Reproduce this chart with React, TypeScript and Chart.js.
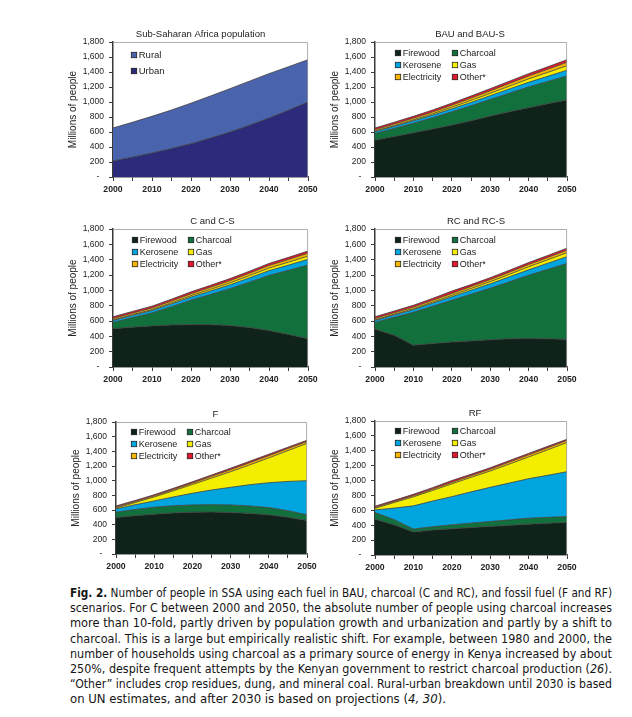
import React, { useEffect, useLayoutEffect, useRef } from 'react';
import { Chart, registerables } from 'chart.js';

Chart.register(...registerables);

// ---------------- data ----------------
const years = [2000, 2005, 2010, 2015, 2020, 2025, 2030, 2035, 2040, 2045, 2050];
const yTickValues = [0, 200, 400, 600, 800, 1000, 1200, 1400, 1600, 1800];
const xLabelYears = [2000, 2010, 2020, 2030, 2040, 2050];

const popUrban = [213, 265, 320, 380, 444, 520, 600, 690, 787, 890, 1000];
const popRural = [440, 465, 489, 513, 541, 560, 578, 588, 591, 580, 564];

const bauFirewood = [491, 540, 590, 640, 692, 750, 813, 870, 925, 978, 1027];
const bauCharcoal = [88, 108, 127, 150, 177, 200, 221, 248, 276, 296, 321];
const bauKerosene = [25, 28, 32, 36, 40, 45, 50, 56, 62, 69, 76];
const bauGas = [8, 10, 13, 17, 22, 27, 32, 38, 45, 52, 60];
const bauElectricity = [18, 20, 22, 24, 27, 30, 33, 36, 39, 42, 45];
const bauOther = [23, 24, 25, 26, 27, 28, 29, 30, 31, 33, 35];

const cFirewood = [500, 520, 536, 548, 553, 553, 540, 515, 475, 425, 370];
const cCharcoal = [81, 125, 169, 239, 319, 393, 482, 592, 720, 836, 960];
const cKerosene = [25, 28, 32, 36, 40, 45, 50, 56, 62, 68, 74];
const cGas = [8, 10, 12, 15, 18, 22, 26, 30, 34, 38, 43];
const cElectricity = [18, 19, 21, 23, 25, 27, 29, 31, 33, 35, 37];
const cOther = [23, 23, 24, 24, 25, 25, 26, 26, 27, 28, 29];

const rcFirewood = [493, 414, 285, 305, 325, 340, 355, 368, 372, 368, 360];
const rcCharcoal = [88, 234, 428, 487, 545, 609, 672, 743, 824, 906, 991];
const rcKerosene = [25, 30, 35, 40, 46, 52, 58, 65, 72, 80, 88];
const rcGas = [8, 10, 12, 15, 19, 23, 28, 33, 39, 45, 52];
const rcElectricity = [18, 19, 21, 23, 25, 26, 27, 28, 29, 30, 32];
const rcOther = [23, 23, 24, 25, 30, 25, 25, 25, 26, 26, 27];

const fFirewood = [498, 522, 543, 560, 570, 572, 566, 553, 534, 500, 457];
const fCharcoal = [72, 85, 95, 98, 99, 101, 103, 102, 99, 90, 77];
const fKerosene = [45, 65, 86, 120, 159, 200, 240, 290, 339, 400, 466];
const fGas = [12, 29, 54, 84, 120, 162, 213, 270, 339, 420, 509];
const fElectricity = [13, 14, 15, 17, 20, 24, 28, 30, 30, 28, 26];
const fOther = [15, 15, 15, 16, 17, 18, 20, 20, 20, 18, 16];

const rfFirewood = [481, 405, 310, 335, 352, 368, 383, 398, 414, 426, 437];
const rfCharcoal = [89, 70, 38, 45, 53, 60, 67, 74, 81, 80, 80];
const rfKerosene = [36, 155, 312, 345, 379, 420, 459, 495, 530, 565, 602];
const rfGas = [21, 75, 121, 142, 172, 195, 219, 255, 292, 343, 392];
const rfElectricity = [13, 14, 16, 18, 20, 22, 24, 26, 28, 28, 28];
const rfOther = [15, 16, 18, 20, 24, 20, 20, 20, 20, 18, 16];

// ---------------- styles ----------------
const COLORS = {
  urban: '#2b2a7b',
  rural: '#4a63ad',
  firewood: '#10231a',
  charcoal: '#11703c',
  kerosene: '#00a5df',
  gas: '#f3ee00',
  electricity: '#f5b400',
  other: '#e2182e',
};
const FONT = '"Liberation Sans", Arial, sans-serif';
const TEXT = '#222222';
const AXIS = '#3a3a3a';

type Series = { label: string; values: number[]; color: string };
type Panel = {
  title: string;
  series: Series[];
  legendOrder: number[];
  legendCols: number;
  rect: { l: number; r: number; t: number; b: number };
  titleDx: number;
  legendDx: number;
  legendDy: number;
  legendRowH: number;
  legendColW: number;
  legendFont: number;
};

const fuelSeries = (fw: number[], ch: number[], ke: number[], ga: number[], el: number[], ot: number[]): Series[] => [
  { label: 'Firewood', values: fw, color: COLORS.firewood },
  { label: 'Charcoal', values: ch, color: COLORS.charcoal },
  { label: 'Kerosene', values: ke, color: COLORS.kerosene },
  { label: 'Gas', values: ga, color: COLORS.gas },
  { label: 'Electricity', values: el, color: COLORS.electricity },
  { label: 'Other*', values: ot, color: COLORS.other },
];

const fuelLegend = { legendOrder: [0, 1, 2, 3, 4, 5], legendCols: 2, legendRowH: 12, legendColW: 57, legendFont: 9 };

const panels: Panel[] = [
  {
    title: 'Sub-Saharan Africa population',
    series: [
      { label: 'Urban', values: popUrban, color: COLORS.urban },
      { label: 'Rural', values: popRural, color: COLORS.rural },
    ],
    legendOrder: [1, 0],
    legendCols: 1,
    legendRowH: 16,
    legendColW: 60,
    legendFont: 9.5,
    rect: { l: 113, r: 308, t: 42, b: 177 },
    titleDx: -10,
    legendDx: 21,
    legendDy: 13,
  },
  {
    title: 'BAU and BAU-S',
    series: fuelSeries(bauFirewood, bauCharcoal, bauKerosene, bauGas, bauElectricity, bauOther),
    ...fuelLegend,
    rect: { l: 375, r: 567, t: 42, b: 177 },
    titleDx: -1,
    legendDx: 23,
    legendDy: 11,
  },
  {
    title: 'C and C-S',
    series: fuelSeries(cFirewood, cCharcoal, cKerosene, cGas, cElectricity, cOther),
    ...fuelLegend,
    legendColW: 56,
    rect: { l: 113, r: 308, t: 229, b: 367 },
    titleDx: 2,
    legendDx: 22,
    legendDy: 11,
  },
  {
    title: 'RC and RC-S',
    series: fuelSeries(rcFirewood, rcCharcoal, rcKerosene, rcGas, rcElectricity, rcOther),
    ...fuelLegend,
    rect: { l: 375, r: 567, t: 229, b: 367 },
    titleDx: 5,
    legendDx: 23,
    legendDy: 11,
  },
  {
    title: 'F',
    series: fuelSeries(fFirewood, fCharcoal, fKerosene, fGas, fElectricity, fOther),
    ...fuelLegend,
    legendColW: 56,
    rect: { l: 116, r: 307, t: 422, b: 554 },
    titleDx: 4,
    legendDx: 18,
    legendDy: 10,
  },
  {
    title: 'RF',
    series: fuelSeries(rfFirewood, rfCharcoal, rfKerosene, rfGas, rfElectricity, rfOther),
    ...fuelLegend,
    rect: { l: 375, r: 567, t: 421, b: 555 },
    titleDx: 4,
    legendDx: 23,
    legendDy: 10,
  },
];

const Y_AXIS_W = 55;
const PAD_TOP = 22;
const PAD_RIGHT = 14;
const X_AXIS_H = 22;

function PanelChart({ panel }: { panel: Panel }) {
  const ref = useRef<HTMLCanvasElement>(null);
  const { l, r, t, b } = panel.rect;
  const w = r - l + Y_AXIS_W + PAD_RIGHT;
  const h = b - t + PAD_TOP + X_AXIS_H;

  useEffect(() => {
    const decor = {
      id: 'decor',
      afterDraw(chart: any) {
        const { ctx, chartArea } = chart;
        const { left, right, top, bottom } = chartArea;
        ctx.save();
        // plot frame (top + right)
        ctx.strokeStyle = '#9a9a9a';
        ctx.lineWidth = 0.8;
        ctx.beginPath();
        ctx.moveTo(left, top + 0.5);
        ctx.lineTo(right - 0.4, top + 0.5);
        ctx.lineTo(right - 0.4, bottom);
        ctx.stroke();
        // title
        ctx.fillStyle = TEXT;
        ctx.font = `9.5px ${FONT}`;
        ctx.textAlign = 'center';
        ctx.textBaseline = 'middle';
        ctx.fillText(panel.title, (left + right) / 2 + panel.titleDx, top - 8);
        // legend
        ctx.textAlign = 'left';
        ctx.font = `${panel.legendFont}px ${FONT}`;
        panel.legendOrder.forEach((dsIdx, i) => {
          const ds = chart.data.datasets[dsIdx];
          const col = i % panel.legendCols;
          const row = Math.floor(i / panel.legendCols);
          const cx = left + panel.legendDx + col * panel.legendColW;
          const cy = top + panel.legendDy + row * panel.legendRowH;
          const s = 5.5;
          ctx.fillStyle = ds.backgroundColor;
          ctx.fillRect(cx - s / 2, cy - s / 2, s, s);
          ctx.strokeStyle = '#111';
          ctx.lineWidth = 0.7;
          ctx.strokeRect(cx - s / 2, cy - s / 2, s, s);
          ctx.fillStyle = TEXT;
          ctx.fillText(ds.label, cx + s / 2 + 2, cy + 0.5);
        });
        ctx.restore();
      },
    };

    const chart = new Chart(ref.current!, {
      type: 'line',
      data: {
        datasets: panel.series.map((s, i) => ({
          label: s.label,
          data: years.map((x, j) => ({ x, y: s.values[j] })),
          backgroundColor: s.color,
          borderColor: '#3c3c3c',
          borderWidth: 0.8,
          pointRadius: 0,
          pointHoverRadius: 0,
          fill: i === 0 ? 'origin' : '-1',
          tension: 0,
        })),
      },
      options: {
        animation: false,
        responsive: true,
        maintainAspectRatio: false,
        events: [],
        layout: { padding: { top: PAD_TOP, right: PAD_RIGHT, left: 0, bottom: 0 } },
        plugins: {
          legend: { display: false },
          tooltip: { enabled: false },
          title: { display: false },
        },
        scales: {
          x: {
            type: 'linear',
            min: years[0],
            max: years[years.length - 1],
            afterFit: (scale: any) => {
              scale.height = X_AXIS_H;
            },
            ticks: {
              stepSize: 5,
              autoSkip: false,
              maxRotation: 0,
              padding: 3,
              color: TEXT,
              font: { family: FONT, size: 8.7, weight: 'bold' },
              callback: (v: any) => (xLabelYears.includes(Number(v)) ? String(v) : ''),
            },
            grid: { display: true, drawOnChartArea: false, drawTicks: true, tickLength: 4, color: AXIS, lineWidth: 1 },
            border: { display: true, color: AXIS, width: 1.5 },
          },
          y: {
            type: 'linear',
            stacked: true,
            min: 0,
            max: 1800,
            afterFit: (scale: any) => {
              scale.width = Y_AXIS_W;
            },
            afterBuildTicks: (scale: any) => {
              scale.ticks = yTickValues.map((value) => ({ value }));
            },
            ticks: {
              padding: 5,
              color: TEXT,
              font: { family: FONT, size: 8.5 },
              callback: (v: any) => (Number(v) === 0 ? '-  ' : Number(v).toLocaleString('en-US')),
            },
            grid: { display: true, drawOnChartArea: false, drawTicks: true, tickLength: 4, color: AXIS, lineWidth: 1 },
            border: { display: true, color: AXIS, width: 1.5 },
            title: {
              display: true,
              text: 'Millions of people',
              color: TEXT,
              font: { family: FONT, size: 10 },
              padding: { top: 9, bottom: 0 },
            },
          },
        },
      },
      plugins: [decor],
    } as any);
    return () => chart.destroy();
  }, [panel]);

  return (
    <div style={{ position: 'absolute', left: l - Y_AXIS_W, top: t - PAD_TOP, width: w, height: h }}>
      <canvas ref={ref} />
    </div>
  );
}

const CAPTION_W = 542;
const captionLines: React.ReactNode[] = [
  <><b>Fig. 2.</b> Number of people in SSA using each fuel in BAU, charcoal (C and RC), and fossil fuel (F and RF)</>,
  <>scenarios. For C between 2000 and 2050, the absolute number of people using charcoal increases</>,
  <>more than 10-fold, partly driven by population growth and urbanization and partly by a shift to</>,
  <>charcoal. This is a large but empirically realistic shift. For example, between 1980 and 2000, the</>,
  <>number of households using charcoal as a primary source of energy in Kenya increased by about</>,
  <>250%, despite frequent attempts by the Kenyan government to restrict charcoal production (<i>26</i>).</>,
  <>“Other” includes crop residues, dung, and mineral coal. Rural-urban breakdown until 2030 is based</>,
  <>on UN estimates, and after 2030 is based on projections (<i>4, 30</i>).</>,
];

function Caption() {
  const refs = useRef<(HTMLSpanElement | null)[]>([]);
  useLayoutEffect(() => {
    refs.current.forEach((el, i) => {
      if (!el) return;
      el.style.wordSpacing = '0px';
      el.style.transform = 'none';
      const wNat = el.getBoundingClientRect().width;
      const last = i === captionLines.length - 1;
      if (wNat > CAPTION_W) {
        el.style.transform = `scaleX(${CAPTION_W / wNat})`;
      } else if (!last) {
        const spaces = (el.textContent || '').split(' ').length - 1;
        if (spaces > 0) el.style.wordSpacing = `${(CAPTION_W - wNat) / spaces}px`;
      }
    });
  }, []);
  return (
    <div
      style={{
        position: 'absolute',
        left: 70,
        top: 585,
        width: CAPTION_W,
        fontFamily: '"Liberation Sans Narrow", "DejaVu Sans Condensed", Lato, sans-serif',
        fontSize: 13,
        lineHeight: '15.2px',
        color: '#151515',
      }}
    >
      {captionLines.map((line, i) => (
        <div key={i} style={{ whiteSpace: 'nowrap', height: 15.2 }}>
          <span
            ref={(el) => {
              refs.current[i] = el;
            }}
            style={{ display: 'inline-block', transformOrigin: 'left center' }}
          >
            {line}
          </span>
        </div>
      ))}
    </div>
  );
}

export default function App() {
  return (
    <div style={{ position: 'absolute', left: 0, top: 0, width: 632, height: 717, background: '#fff', overflow: 'hidden' }}>
      {panels.map((p, i) => (
        <PanelChart key={i} panel={p} />
      ))}
      <Caption />
    </div>
  );
}
